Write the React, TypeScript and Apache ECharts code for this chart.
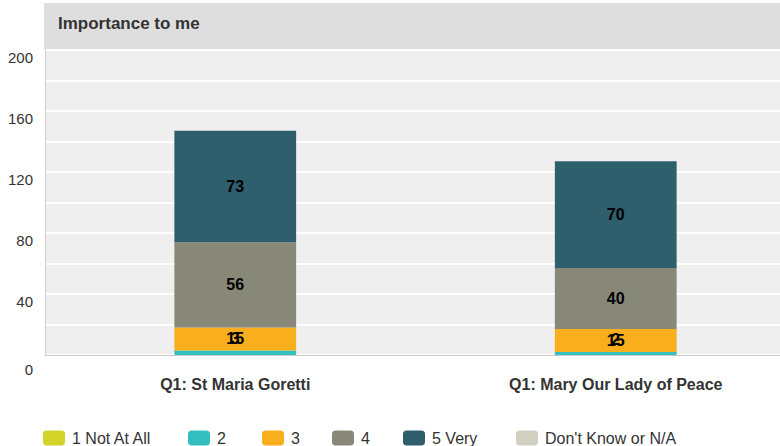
import React, { useEffect, useRef } from "react";
import * as echarts from "echarts";

const categories = ["Q1: St Maria Goretti", "Q1: Mary Our Lady of Peace"];
const seriesNames = ["1 Not At All", "2", "3", "4", "5 Very", "Don't Know or N/A"];
const notAtAll = [0, 0];
const two = [3, 2];
const three = [15, 15];
const four = [56, 40];
const five = [73, 70];
const dontKnow = [0, 0];
const seriesValues = [notAtAll, two, three, four, five, dontKnow];
const colors = ["#d2d42a", "#33bfc0", "#f8ae1d", "#878878", "#2f5e6c", "#d1d0c0"];
const yTicks = [0, 40, 80, 120, 160, 200];
const legendLefts = [43, 188, 262, 332, 403, 516];

const FONT = "'Liberation Sans', Arial, sans-serif";

export default function App() {
  const ref = useRef<HTMLDivElement>(null);
  useEffect(() => {
    const chart = echarts.init(ref.current!, null, { renderer: "svg" });
    chart.setOption({
      animation: false,
      textStyle: { fontFamily: FONT },
      graphic: [
        {
          type: "rect",
          shape: { x: 44, y: 3, width: 736, height: 47 },
          style: { fill: "#dedede" },
          z: -1,
        },
        {
          type: "text",
          x: 58,
          y: 23,
          style: {
            text: "Importance to me",
            font: `bold 17px ${FONT}`,
            fill: "#333333",
            verticalAlign: "middle",
          },
        },
      ],
      grid: {
        left: 45,
        width: 761,
        top: 50,
        bottom: 91,
        show: true,
        backgroundColor: "#efefef",
        borderWidth: 0,
        containLabel: false,
        outerBoundsMode: "none",
      },
      legend: seriesNames.map((name, i) => ({
        left: legendLefts[i],
        top: 430,
        padding: 0,
        itemWidth: 22,
        itemHeight: 15,
        icon: "roundRect",
        data: [name],
        textStyle: { fontSize: 16, color: "#333", fontFamily: FONT, padding: [0, 0, 0, 2] },
      })),
      xAxis: {
        type: "category",
        data: categories,
        axisLine: { show: true, lineStyle: { color: "#c8c8c8", width: 1 } },
        axisTick: { show: false },
        axisLabel: {
          fontSize: 16,
          fontWeight: "bold",
          color: "#333",
          margin: 21,
          fontFamily: FONT,
        },
      },
      yAxis: {
        type: "value",
        min: 0,
        max: 200,
        interval: 20,
        axisLine: { show: true, lineStyle: { color: "#d0d0d0", width: 1 } },
        axisTick: { show: false },
        splitLine: { show: true, lineStyle: { color: "#ffffff", width: 2 } },
        axisLabel: {
          fontSize: 15,
          color: "#333",
          margin: 12,
          verticalAlign: "top",
          fontFamily: FONT,
          formatter: (v: number) => (yTicks.includes(v) ? (v === 0 ? "{z|0}" : String(v)) : ""),
          rich: { z: { fontSize: 15, color: "#333", padding: [7, 0, 0, 0], fontFamily: FONT } },
        },
      },
      series: seriesNames.map((name, i) => ({
        name,
        type: "bar",
        stack: "total",
        barWidth: "32%",
        data: seriesValues[i],
        itemStyle: { color: colors[i] },
        label: {
          show: true,
          position: "inside",
          color: "#000",
          fontSize: 16,
          fontWeight: "bold",
          fontFamily: FONT,
          offset: i === 1 ? [0, -14] : [0, 0],
          formatter: (p: any) => (p.value ? String(p.value) : ""),
        },
      })),
    });
    return () => chart.dispose();
  }, []);
  return (
    <div
      ref={ref}
      style={{ position: "absolute", left: 0, top: 0, width: 780, height: 446 }}
    />
  );
}
